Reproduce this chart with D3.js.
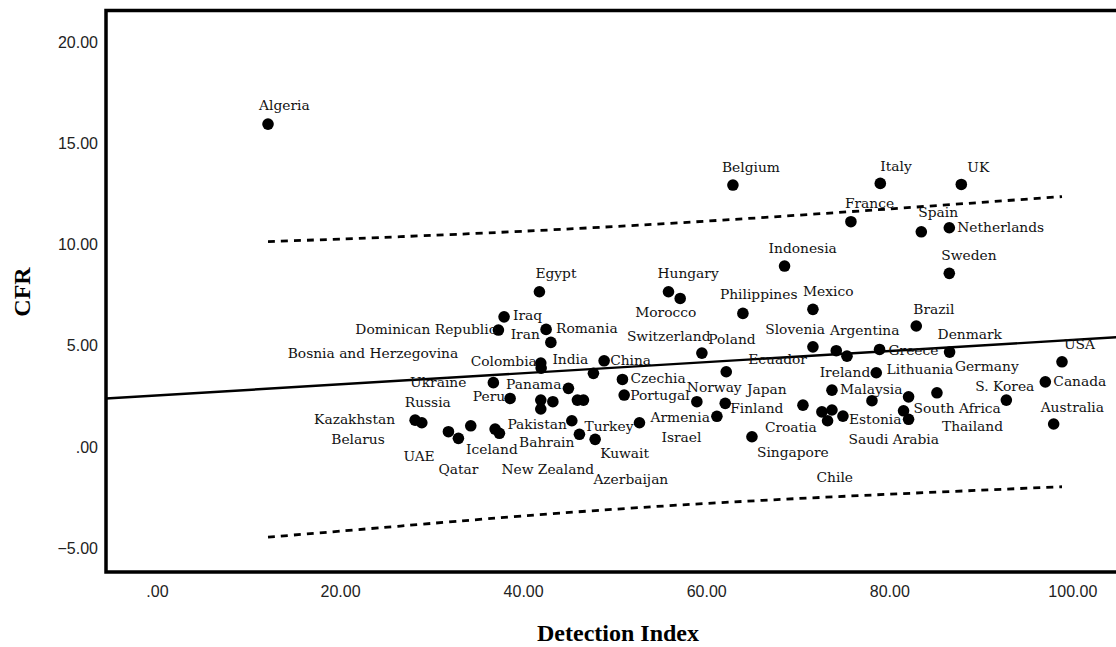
<!DOCTYPE html>
<html>
<head>
<meta charset="utf-8">
<script src="https://cdn.jsdelivr.net/npm/d3@7"></script>
<style>
  body { margin: 0; background: #fff; }
  svg { display: block; }
</style>
</head>
<body>
<div id="chart"></div>
<script>
// Country names ('' = point drawn without a label)
const countries = [
  'Algeria', 'Belgium', 'Italy', 'UK', 'France', 'Spain', 'Netherlands', 'Indonesia', 'Sweden',
  'Egypt', 'Hungary', 'Morocco', 'Philippines', 'Mexico', 'Brazil', 'Iraq', 'Dominican Republic',
  'Romania', 'Iran', 'Colombia', 'Bosnia and Herzegovina', 'India', 'China', 'Switzerland', 'Poland',
  'Ecuador', 'Slovenia', 'Argentina', 'Greece', 'Denmark', 'Germany', 'USA', 'Canada', 'S. Korea',
  'Australia', 'Ireland', 'Lithuania', 'Malaysia', 'Japan', 'Finland', 'Norway', 'Czechia', 'Portugal',
  'Panama', 'Peru', 'Ukraine', 'Armenia', 'Pakistan', 'Turkey', 'Bahrain', 'Kuwait', 'New Zealand',
  'Azerbaijan', 'Israel', 'Iceland', 'UAE', 'Qatar', 'Kazakhstan', 'Belarus', 'Russia', 'Singapore',
  'Croatia', 'Estonia', 'Saudi Arabia', 'South Africa', 'Thailand', 'Chile', '', '', '', ''
];

const detectionIndex = [
  12.13, 62.92, 79.02, 87.87, 75.81, 83.50, 86.56, 68.56, 86.56,
  41.78, 55.88, 57.16, 64.01, 71.66, 82.95, 37.92, 37.30,
  42.51, 43.03, 41.93, 41.97, 47.68, 48.85, 59.53, 62.19,
  71.66, 74.21, 75.38, 78.94, 86.59, 85.21, 98.87, 97.05, 92.79,
  97.96, 78.58, 82.11, 73.74, 70.57, 62.08, 58.98, 50.85, 51.04,
  44.95, 38.58, 36.75, 61.17, 45.32, 52.71, 46.15, 47.87, 37.41,
  45.93, 46.59, 36.94, 31.84, 32.93, 28.20, 28.93, 34.28, 65.00,
  72.64, 74.94, 82.11, 81.56, 78.11, 73.26, 41.93, 43.25, 41.93, 73.74
];

const cfr = [
  15.95, 12.94, 13.02, 12.97, 11.13, 10.63, 10.83, 8.94, 8.58,
  7.67, 7.67, 7.34, 6.60, 6.80, 5.98, 6.43, 5.78,
  5.81, 5.17, 4.15, 3.90, 3.64, 4.26, 4.64, 3.72,
  4.95, 4.76, 4.49, 4.82, 4.69, 2.68, 4.21, 3.22, 2.32,
  1.14, 3.67, 2.48, 2.81, 2.07, 2.16, 2.24, 3.34, 2.57,
  2.90, 2.40, 3.18, 1.52, 1.30, 1.20, 0.63, 0.38, 0.68,
  2.32, 2.32, 0.89, 0.76, 0.43, 1.33, 1.20, 1.05, 0.51,
  1.74, 1.53, 1.37, 1.79, 2.29, 1.30, 2.32, 2.24, 1.88, 1.83
];

const xTicks = [0, 20, 40, 60, 80, 100];
const yTicks = [-5, 0, 5, 10, 15, 20];

// linear fit and the prediction band
const fitIntercept = 2.55;
const fitSlope = 0.0274;
const upperBandX = [12.13, 26.6, 57.2, 98.87];
const upperBandY = [10.15, 10.39, 11.08, 12.37];
const lowerBandX = [12.13, 26.6, 57.2, 98.87];
const lowerBandY = [-4.45, -3.90, -2.86, -1.96];

// label placement relative to the point: [dx, dy (baseline), anchor]
const labelPlacement = {
  'Algeria': [-9, -14, 'start'], 'Belgium': [-11, -13, 'start'], 'Italy': [0, -12, 'start'],
  'UK': [6, -12, 'start'], 'France': [-6, -14, 'start'], 'Spain': [-3, -15, 'start'],
  'Netherlands': [8, 4, 'start'], 'Indonesia': [-16, -13, 'start'], 'Sweden': [-8, -13, 'start'],
  'Egypt': [-4, -14, 'start'], 'Hungary': [-11, -14, 'start'], 'Morocco': [-45, 19, 'start'],
  'Philippines': [-23, -14, 'start'], 'Mexico': [-10, -13, 'start'], 'Brazil': [-3, -12, 'start'],
  'Iraq': [9, 3, 'start'], 'Dominican Republic': [-2, 4, 'end'], 'Romania': [10, 4, 'start'],
  'Iran': [-11, -3, 'end'], 'Colombia': [-4, 3, 'end'], 'Bosnia and Herzegovina': [-83, -10, 'end'],
  'India': [-41, -9, 'start'], 'China': [6, 4, 'start'], 'Switzerland': [-75, -12, 'start'],
  'Poland': [-18, -28, 'start'], 'Ecuador': [-6, 17, 'end'], 'Slovenia': [-71, -17, 'start'],
  'Argentina': [-17, -21, 'start'], 'Greece': [9, 6, 'start'], 'Denmark': [-12, -13, 'start'],
  'Germany': [18, -22, 'start'], 'USA': [2, -13, 'start'], 'Canada': [8, 4, 'start'],
  'S. Korea': [-31, -9, 'start'], 'Australia': [-13, -12, 'start'], 'Ireland': [-6, 4, 'end'],
  'Lithuania': [-22, -23, 'start'], 'Malaysia': [8, 4, 'start'], 'Japan': [-56, -11, 'start'],
  'Finland': [5, 10, 'start'], 'Norway': [-10, -10, 'start'], 'Czechia': [8, 4, 'start'],
  'Portugal': [6, 5, 'start'], 'Panama': [-7, 1, 'end'], 'Peru': [-5, 3, 'end'],
  'Ukraine': [-27, 4, 'end'], 'Armenia': [-7, 6, 'end'], 'Pakistan': [-5, 8, 'end'],
  'Turkey': [-6, 8, 'end'], 'Bahrain': [-5, 13, 'end'], 'Kuwait': [5, 19, 'start'],
  'New Zealand': [2, 41, 'start'], 'Azerbaijan': [16, 84, 'start'], 'Israel': [78, 42, 'start'],
  'Iceland': [-29, 25, 'start'], 'UAE': [-45, 29, 'start'], 'Qatar': [-20, 36, 'start'],
  'Kazakhstan': [-20, 4, 'end'], 'Belarus': [-37, 21, 'end'], 'Russia': [-66, -19, 'start'],
  'Singapore': [5, 20, 'start'], 'Croatia': [-57, 20, 'start'], 'Estonia': [6, 8, 'start'],
  'Saudi Arabia': [-60, 25, 'start'], 'South Africa': [10, 2, 'start'], 'Thailand': [70, 30, 'start'],
  'Chile': [-11, 61, 'start']
};

const width = 1116;
const height = 647;
const plot = { left: 106, right: 1130, top: 10.5, bottom: 572 };

const svg = d3.select('#chart')
  .append('svg')
  .attr('width', width)
  .attr('height', height);

const x = d3.scaleLinear().domain([-5.57, 106.3]).range([plot.left, plot.right]);
const y = d3.scaleLinear().domain([-6.17, 21.56]).range([plot.bottom, plot.top]);

const fmt = d => d3.format('.2f')(d).replace(/^(-?)0\./, '$1.');

// clip for the lines
svg.append('clipPath').attr('id', 'plot-clip')
  .append('rect')
  .attr('x', plot.left).attr('y', plot.top)
  .attr('width', plot.right - plot.left).attr('height', plot.bottom - plot.top);

// axes (no tick marks, just labels)
const xAxis = svg.append('g')
  .attr('transform', `translate(0,${plot.bottom})`)
  .call(d3.axisBottom(x).tickValues(xTicks).tickFormat(fmt).tickSize(0).tickPadding(14));
const yAxis = svg.append('g')
  .attr('transform', `translate(${plot.left},0)`)
  .call(d3.axisLeft(y).tickValues(yTicks).tickFormat(fmt).tickSize(0).tickPadding(8));
[xAxis, yAxis].forEach(g => {
  g.select('.domain').remove();
  g.selectAll('text')
    .attr('font-family', '"Liberation Sans", Arial, sans-serif')
    .attr('font-size', 16)
    .attr('fill', '#222');
});

const lines = svg.append('g').attr('clip-path', 'url(#plot-clip)');

// fit line over the full x range
const fitX = x.domain();
lines.append('line')
  .attr('x1', x(fitX[0])).attr('y1', y(fitIntercept + fitSlope * fitX[0]))
  .attr('x2', x(fitX[1])).attr('y2', y(fitIntercept + fitSlope * fitX[1]))
  .attr('stroke', '#000')
  .attr('stroke-width', 2.4);

const bandLine = d3.line()
  .x(d => x(d[0]))
  .y(d => y(d[1]))
  .curve(d3.curveNatural);

[[upperBandX, upperBandY], [lowerBandX, lowerBandY]].forEach(([bx, by]) => {
  lines.append('path')
    .datum(bx.map((v, i) => [v, by[i]]))
    .attr('d', bandLine)
    .attr('fill', 'none')
    .attr('stroke', '#000')
    .attr('stroke-width', 2.8)
    .attr('stroke-dasharray', '7,6');
});

const points = countries.map((name, i) => ({ name, x: detectionIndex[i], y: cfr[i] }));

// dots
svg.append('g')
  .selectAll('circle')
  .data(points)
  .join('circle')
  .attr('cx', d => x(d.x))
  .attr('cy', d => y(d.y))
  .attr('r', 5.8)
  .attr('fill', '#000');

// point labels
svg.append('g')
  .selectAll('text')
  .data(points.filter(d => d.name && labelPlacement[d.name]))
  .join('text')
  .attr('x', d => x(d.x) + labelPlacement[d.name][0])
  .attr('y', d => y(d.y) + labelPlacement[d.name][1])
  .attr('text-anchor', d => labelPlacement[d.name][2])
  .attr('font-family', '"DejaVu Serif", serif')
  .attr('font-size', 13.8)
  .attr('fill', '#111')
  .text(d => d.name);

// frame
svg.append('rect')
  .attr('x', plot.left).attr('y', plot.top)
  .attr('width', plot.right - plot.left).attr('height', plot.bottom - plot.top)
  .attr('fill', 'none')
  .attr('stroke', '#000')
  .attr('stroke-width', 3.5);

// axis titles
svg.append('text')
  .attr('x', 618).attr('y', 641)
  .attr('text-anchor', 'middle')
  .attr('font-family', '"Liberation Serif", "Times New Roman", serif')
  .attr('font-weight', 'bold')
  .attr('font-size', 24)
  .text('Detection Index');

svg.append('text')
  .attr('transform', 'translate(30,292) rotate(-90)')
  .attr('text-anchor', 'middle')
  .attr('font-family', '"Liberation Serif", "Times New Roman", serif')
  .attr('font-weight', 'bold')
  .attr('font-size', 24)
  .text('CFR');
</script>
</body>
</html>
